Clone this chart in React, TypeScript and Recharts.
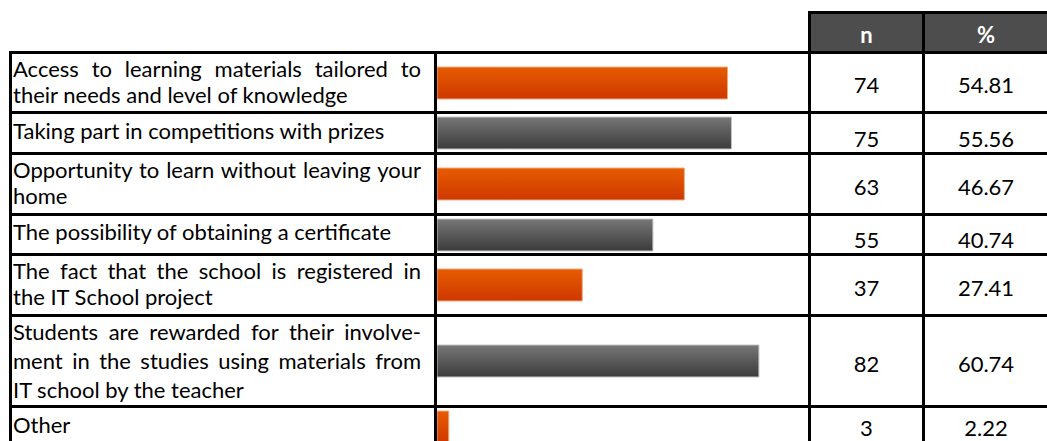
import { BarChart, Bar, XAxis, YAxis } from 'recharts'

const labels: string[][] = [
  ['Access to learning materials tailored to', 'their needs and level of knowledge'],
  ['Taking part in competitions with prizes'],
  ['Opportunity to learn without leaving your', 'home'],
  ['The possibility of obtaining a certificate'],
  ['The fact that the school is registered in', 'the IT School project'],
  ['Students are rewarded for their involve-', 'ment in the studies using materials from', 'IT school by the teacher'],
  ['Other'],
]
const counts = [74, 75, 63, 55, 37, 82, 3]
const percents = [54.81, 55.56, 46.67, 40.74, 27.41, 60.74, 2.22]
const headers = ['n', '%']

// table geometry (top edge of each horizontal rule, left edge of each vertical rule)
const ROW_LINES = [51, 111, 152, 213, 253, 314, 405, 446]
const COL_LINES = [9, 434, 808, 922, 1047]
const HEADER_TOP = 11
const RULE = 3
const FONT = 'Lato, "Open Sans", sans-serif'

const ORANGE = { top: '#E65C00', bottom: '#CE3800', stroke: '#F3A87C' }
const GRAY = { top: '#777777', bottom: '#3b3b3b', stroke: '#c4c4c4' }

function Rule({ x, y, w, h }: { x: number; y: number; w: number; h: number }) {
  return <div style={{ position: 'absolute', left: x, top: y, width: w, height: h, background: '#000' }} />
}

function RowBar({ index, height }: { index: number; height: number }) {
  const c = index % 2 === 0 ? ORANGE : GRAY
  const id = `grad-${index}`
  const data = [{ label: labels[index].join(' '), pct: percents[index] }]
  return (
    <BarChart
      width={COL_LINES[2] - COL_LINES[1] - RULE}
      height={height}
      data={data}
      layout="vertical"
      margin={{ top: 0, right: 0, bottom: 0, left: 0 }}
    >
      <defs>
        <linearGradient id={id} x1="0" y1="0" x2="0" y2="1">
          <stop offset="0%" stopColor={c.top} />
          <stop offset="100%" stopColor={c.bottom} />
        </linearGradient>
      </defs>
      <XAxis type="number" domain={[0, 70]} hide />
      <YAxis type="category" dataKey="label" hide />
      <Bar dataKey="pct" barSize={32} fill={`url(#${id})`} stroke={c.stroke} strokeWidth={1} isAnimationActive={false} />
    </BarChart>
  )
}

export default function App() {
  const lastCol = COL_LINES.length - 1
  return (
    <div
      style={{
        position: 'fixed', left: 0, top: 0, width: 1047, height: 441, overflow: 'hidden',
        background: '#fff', fontFamily: FONT, fontSize: 22, color: '#000',
      }}
    >
      {/* header cells */}
      <div style={{ position: 'absolute', left: COL_LINES[2], top: HEADER_TOP, width: COL_LINES[lastCol] - COL_LINES[2], height: ROW_LINES[0] - HEADER_TOP, background: '#4d4d4d' }} />
      {headers.map((h, i) => (
        <div
          key={h}
          style={{
            position: 'absolute', left: COL_LINES[2 + i] + RULE, top: HEADER_TOP + RULE,
            width: COL_LINES[3 + i] - COL_LINES[2 + i] - RULE, height: ROW_LINES[0] - HEADER_TOP - RULE,
            display: 'flex', alignItems: 'flex-end', justifyContent: 'center', paddingBottom: 3, boxSizing: 'border-box',
            color: '#fff', fontWeight: 700, lineHeight: '27px',
          }}
        >
          {h}
        </div>
      ))}
      <Rule x={COL_LINES[2]} y={HEADER_TOP} w={COL_LINES[lastCol] - COL_LINES[2] + RULE} h={RULE} />
      {COL_LINES.slice(2).map((x) => (
        <Rule key={`hv-${x}`} x={x} y={HEADER_TOP} w={RULE} h={ROW_LINES[0] - HEADER_TOP} />
      ))}

      {/* body rows */}
      {labels.map((lines, i) => {
        const top = ROW_LINES[i] + RULE
        const h = ROW_LINES[i + 1] - top
        const many = lines.length === 3
        const numShift = i === labels.length - 1 ? 0 : lines.length === 1 ? 5 : 2
        return (
          <div key={i}>
            <div
              style={{
                position: 'absolute', left: COL_LINES[0] + RULE + 1, top, width: 408, height: h,
                display: 'flex', flexDirection: 'column',
                justifyContent: many ? 'flex-start' : 'center',
                paddingBottom: lines.length === 1 ? 6 : lines.length === 2 ? 3 : 0, boxSizing: 'border-box',
                lineHeight: many ? '29px' : '27px',
              }}
            >
              {lines.map((ln, j) => (
                <div
                  key={j}
                  style={{
                    whiteSpace: 'nowrap',
                    textAlign: 'left',
                    textAlignLast: j < lines.length - 1 ? 'justify' : 'left',
                    marginTop: j > 0 && !many ? -1 : 0,
                  }}
                >
                  {ln}
                </div>
              ))}
            </div>
            <div style={{ position: 'absolute', left: COL_LINES[1] + RULE, top }}>
              <RowBar index={i} height={h} />
            </div>
            {[counts[i], percents[i].toFixed(2)].map((v, k) => (
              <div
                key={k}
                style={{
                  position: 'absolute', left: COL_LINES[2 + k] + RULE, top: top + numShift,
                  width: COL_LINES[3 + k] - COL_LINES[2 + k] - RULE, height: h,
                  display: 'flex', alignItems: 'center', justifyContent: 'center', lineHeight: '27px',
                }}
              >
                {v}
              </div>
            ))}
          </div>
        )
      })}

      {/* grid rules */}
      {ROW_LINES.map((y) => (
        <Rule key={`h-${y}`} x={COL_LINES[0]} y={y} w={COL_LINES[lastCol] - COL_LINES[0] + RULE} h={RULE} />
      ))}
      {COL_LINES.map((x) => (
        <Rule key={`v-${x}`} x={x} y={ROW_LINES[0]} w={RULE} h={ROW_LINES[ROW_LINES.length - 1] - ROW_LINES[0]} />
      ))}
    </div>
  )
}
